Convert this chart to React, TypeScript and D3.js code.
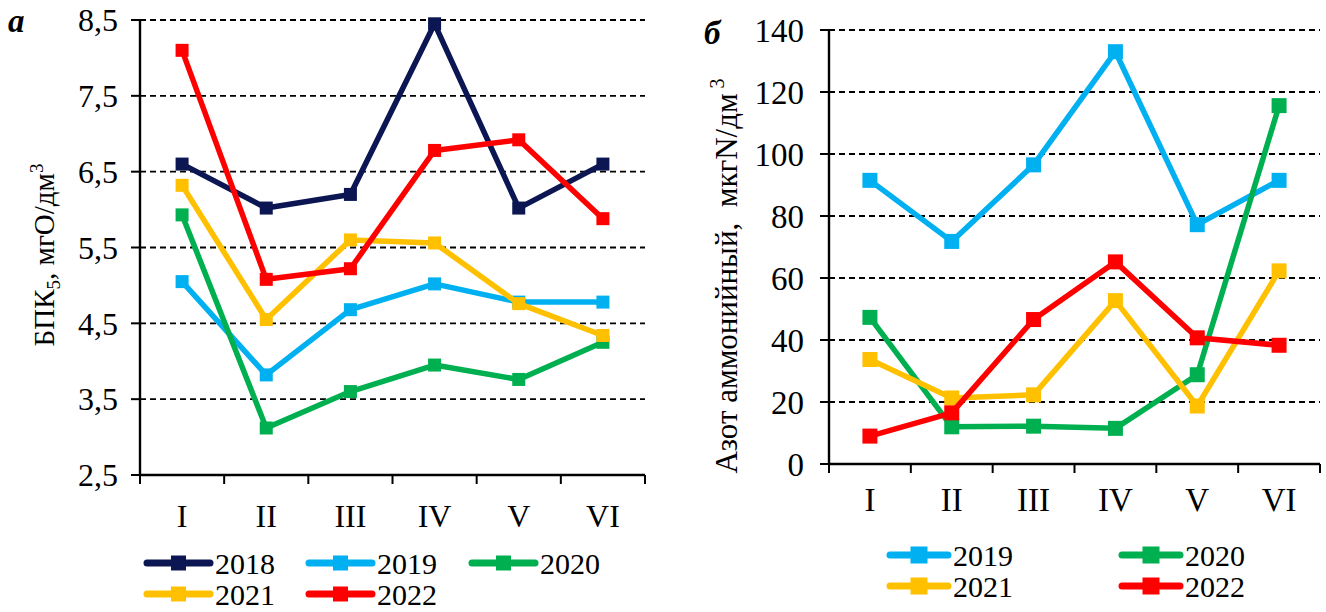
import React from "react";
import * as d3 from "d3";

const categories = ["I", "II", "III", "IV", "V", "VI"];

// Panel а: БПК5
const bpkYears = ["2018", "2019", "2020", "2021", "2022"];
const bpk2018 = [6.6, 6.02, 6.2, 8.45, 6.02, 6.6];
const bpk2019 = [5.05, 3.82, 4.68, 5.02, 4.78, 4.78];
const bpk2020 = [5.93, 3.12, 3.6, 3.95, 3.76, 4.25];
const bpk2021 = [6.32, 4.55, 5.6, 5.56, 4.76, 4.34];
const bpk2022 = [8.1, 5.08, 5.22, 6.78, 6.92, 5.88];
const bpkTicks = [2.5, 3.5, 4.5, 5.5, 6.5, 7.5, 8.5];

// Panel б: Азот аммонийный
const nYears = ["2019", "2020", "2021", "2022"];
const n2019 = [91.5, 71.8, 96.5, 133, 77.2, 91.5];
const n2020 = [47.3, 12.0, 12.2, 11.5, 28.8, 115.6];
const n2021 = [33.7, 21.3, 22.3, 52.7, 18.7, 62.3];
const n2022 = [9.0, 16.5, 46.6, 65.2, 40.7, 38.3];
const nTicks = [0, 20, 40, 60, 80, 100, 120, 140];

const yearColors: Record<string, string> = {
  "2018": "#0b1653",
  "2019": "#00b0f0",
  "2020": "#00b050",
  "2021": "#ffc000",
  "2022": "#ff0000",
};

const FONT = "'Liberation Serif', 'DejaVu Serif', serif";

type Series = { year: string; values: number[] };

function Panel(props: {
  x0: number; x1: number; yTop: number; yBot: number;
  domain: [number, number]; ticks: number[]; fmt: (v: number) => string;
  series: Series[]; tickFont: number; tickGap: number; catY: number; catFont: number; marker: number;
}) {
  const { x0, x1, yTop, yBot, domain, ticks, fmt, series, tickFont, tickGap, catY, catFont, marker } = props;
  const x = d3.scaleBand<string>().domain(categories).range([x0, x1]);
  const y = d3.scaleLinear().domain(domain).range([yBot, yTop]);
  const line = d3.line<number>()
    .x((_, i) => (x(categories[i]) as number) + x.bandwidth() / 2)
    .y((v) => y(v));
  const bounds = categories.map((c) => x(c) as number).concat([x1]);
  const h = marker / 2;
  return (
    <g>
      {ticks.map((t) => (
        <g key={t}>
          {t !== domain[0] && (
            <line x1={x0} x2={x1} y1={y(t)} y2={y(t)} stroke="#000" strokeWidth={1.8} strokeDasharray="6,4" />
          )}
          <line x1={x0 - 9} x2={x0} y1={y(t)} y2={y(t)} stroke="#000" strokeWidth={2} />
          <text x={x0 - tickGap} y={y(t)} dy="0.35em" textAnchor="end" fontSize={tickFont} fontFamily={FONT}>
            {fmt(t)}
          </text>
        </g>
      ))}
      <line x1={x0} x2={x0} y1={yTop} y2={yBot} stroke="#000" strokeWidth={2.4} />
      <line x1={x0} x2={x1} y1={yBot} y2={yBot} stroke="#000" strokeWidth={2.4} />
      {bounds.map((b, i) => (
        <line key={i} x1={b} x2={b} y1={yBot} y2={yBot + 9} stroke="#000" strokeWidth={2} />
      ))}
      {categories.map((c) => (
        <text key={c} x={(x(c) as number) + x.bandwidth() / 2} y={catY} textAnchor="middle"
          fontSize={catFont} fontFamily={FONT}>{c}</text>
      ))}
      {series.map((s) => (
        <g key={s.year}>
          <path d={line(s.values) as string} fill="none" stroke={yearColors[s.year]} strokeWidth={5.5}
            strokeLinejoin="round" strokeLinecap="round" />
          {s.values.map((v, i) => (
            <rect key={i} x={(x(categories[i]) as number) + x.bandwidth() / 2 - h} y={y(v) - h}
              width={marker} height={marker} fill={yearColors[s.year]} />
          ))}
        </g>
      ))}
    </g>
  );
}

function LegendItem(props: { x: number; y: number; year: string; len: number; font: number; marker: number }) {
  const { x, y, year, len, font, marker } = props;
  const c = yearColors[year];
  return (
    <g>
      <line x1={x} x2={x + len} y1={y} y2={y} stroke={c} strokeWidth={7} strokeLinecap="round" />
      <rect x={x + len / 2 - marker / 2} y={y - marker / 2} width={marker} height={marker} fill={c} />
      <text x={x + len + 5} y={y} dy="0.35em" fontSize={font} fontFamily={FONT}>{year}</text>
    </g>
  );
}

export default function App() {
  const bpkSeries: Series[] = [
    { year: bpkYears[0], values: bpk2018 },
    { year: bpkYears[1], values: bpk2019 },
    { year: bpkYears[2], values: bpk2020 },
    { year: bpkYears[3], values: bpk2021 },
    { year: bpkYears[4], values: bpk2022 },
  ];
  const nSeries: Series[] = [
    { year: nYears[0], values: n2019 },
    { year: nYears[1], values: n2020 },
    { year: nYears[2], values: n2021 },
    { year: nYears[3], values: n2022 },
  ];
  return (
    <svg width={1326} height={612} style={{ position: "absolute", left: 0, top: 0, background: "#fff" }}>
      <rect width={1326} height={612} fill="#fff" />
      {/* Panel а */}
      <text x={8} y={32} fontSize={33} fontWeight="bold" fontStyle="italic" fontFamily={FONT}>а</text>
      <Panel x0={140} x1={645} yTop={20} yBot={475} domain={[2.5, 8.5]} ticks={bpkTicks}
        fmt={(v) => v.toFixed(1).replace(".", ",")} series={bpkSeries} tickFont={32} tickGap={22}
        catY={527} catFont={32} marker={13} />
      <text transform="translate(54,255) rotate(-90)" textAnchor="middle" fontSize={29} fontFamily={FONT}>
        БПК<tspan fontSize={19} dy={6}>5</tspan><tspan dy={-6}>, мгО/дм</tspan><tspan fontSize={19} dy={-11}>3</tspan>
      </text>
      <LegendItem x={147} y={563} year="2018" len={63} font={30} marker={15} />
      <LegendItem x={309} y={563} year="2019" len={63} font={30} marker={15} />
      <LegendItem x={472} y={563} year="2020" len={63} font={30} marker={15} />
      <LegendItem x={147} y={594} year="2021" len={63} font={30} marker={15} />
      <LegendItem x={309} y={594} year="2022" len={63} font={30} marker={15} />

      {/* Panel б */}
      <text x={704} y={44} fontSize={33} fontWeight="bold" fontStyle="italic" fontFamily={FONT}>б</text>
      <Panel x0={829} x1={1320} yTop={30} yBot={464} domain={[0, 140]} ticks={nTicks}
        fmt={(v) => String(v)} series={nSeries} tickFont={33} tickGap={25} catY={511} catFont={33} marker={15} />
      <text transform="translate(737,276) rotate(-90)" textAnchor="middle" fontSize={31} fontFamily={FONT}>
        Азот аммонийный,{"\u00a0\u00a0"}мкгN/дм<tspan fontSize={20} dy={-13}>{"\u00a0"}3</tspan>
      </text>
      <LegendItem x={890} y={555} year="2019" len={58} font={30} marker={17} />
      <LegendItem x={1122} y={555} year="2020" len={58} font={30} marker={17} />
      <LegendItem x={890} y={586} year="2021" len={58} font={30} marker={17} />
      <LegendItem x={1122} y={586} year="2022" len={58} font={30} marker={17} />
    </svg>
  );
}
